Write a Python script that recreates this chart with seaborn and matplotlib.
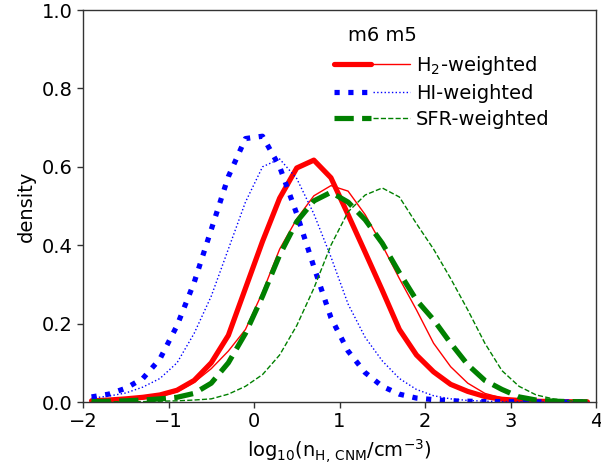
import numpy as np
import pandas as pd
import matplotlib
matplotlib.use("Agg")
import matplotlib.pyplot as plt
import seaborn as sns
from matplotlib.legend_handler import HandlerTuple

# bin centres of log10 density
log_n = [-1.9, -1.7, -1.5, -1.3, -1.1, -0.9, -0.7, -0.5, -0.3, -0.1,
         0.1, 0.3, 0.5, 0.7, 0.9, 1.1, 1.3, 1.5, 1.7, 1.9,
         2.1, 2.3, 2.5, 2.7, 2.9, 3.1, 3.3, 3.5, 3.7, 3.9]

h2_m6 = [0.003, 0.005, 0.008, 0.012, 0.018, 0.030, 0.055, 0.100, 0.170, 0.290,
         0.410, 0.520, 0.597, 0.617, 0.572, 0.478, 0.382, 0.285, 0.185, 0.120,
         0.077, 0.045, 0.027, 0.014, 0.007, 0.004, 0.002, 0.001, 0.0005, 0.0003]
h2_m5 = [0.002, 0.003, 0.005, 0.008, 0.014, 0.026, 0.050, 0.085, 0.130, 0.185,
         0.280, 0.390, 0.467, 0.526, 0.552, 0.538, 0.478, 0.400, 0.315, 0.235,
         0.150, 0.090, 0.048, 0.022, 0.010, 0.005, 0.002, 0.001, 0.0005, 0.0003]
hi_m6 = [0.013, 0.020, 0.035, 0.060, 0.110, 0.195, 0.305, 0.440, 0.575, 0.672,
         0.678, 0.600, 0.480, 0.345, 0.215, 0.130, 0.075, 0.040, 0.020, 0.010,
         0.006, 0.003, 0.002, 0.001, 0.001, 0.0005, 0.0003, 0.0002, 0.0001, 0.0001]
hi_m5 = [0.010, 0.015, 0.023, 0.038, 0.060, 0.100, 0.175, 0.270, 0.390, 0.510,
         0.600, 0.620, 0.570, 0.480, 0.370, 0.250, 0.165, 0.105, 0.060, 0.032,
         0.016, 0.008, 0.004, 0.002, 0.001, 0.0005, 0.0003, 0.0002, 0.0001, 0.0001]
sfr_m6 = [0.001, 0.002, 0.003, 0.005, 0.008, 0.012, 0.022, 0.048, 0.100, 0.175,
          0.270, 0.375, 0.460, 0.513, 0.535, 0.510, 0.465, 0.405, 0.330, 0.260,
          0.210, 0.150, 0.095, 0.055, 0.032, 0.013, 0.005, 0.002, 0.001, 0.0005]
sfr_m5 = [0.0003, 0.0005, 0.001, 0.001, 0.002, 0.003, 0.005, 0.008, 0.020, 0.040,
          0.070, 0.120, 0.195, 0.290, 0.400, 0.485, 0.528, 0.546, 0.523, 0.455,
          0.390, 0.315, 0.235, 0.150, 0.080, 0.040, 0.018, 0.008, 0.003, 0.001]

legend_labels = ["H$_2$-weighted", "HI-weighted", "SFR-weighted"]
x_ticks = [-2, -1, 0, 1, 2, 3, 4]
y_ticks = [0.0, 0.2, 0.4, 0.6, 0.8, 1.0]

sns.set_style("white")
plt.rcParams["font.family"] = ["DejaVu Sans"]
plt.rcParams["text.color"] = "black"
plt.rcParams["axes.labelcolor"] = "black"
plt.rcParams["axes.edgecolor"] = "0.2"
plt.rcParams["xtick.color"] = "0.2"
plt.rcParams["ytick.color"] = "0.2"
plt.rcParams["xtick.labelcolor"] = "black"
plt.rcParams["ytick.labelcolor"] = "black"

fig = plt.figure(figsize=(6.01, 4.73), dpi=100)
ax = fig.add_axes([83 / 601, 1 - 402 / 473, 513 / 601, 392 / 473])

thick, thin = 3.75, 1.0
series = [
    (h2_m6, "red", "-", thick), (h2_m5, "red", "-", thin),
    (hi_m6, "blue", ":", thick), (hi_m5, "blue", ":", thin),
    (sfr_m6, "green", "--", thick), (sfr_m5, "green", "--", thin),
]
for values, color, ls, lw in series:
    df = pd.DataFrame({"log_n": log_n, "density": values})
    sns.lineplot(data=df, x="log_n", y="density", ax=ax, color=color,
                 linestyle=ls, linewidth=lw, legend=False)

ax.set_xlim(-2, 4)
ax.set_ylim(0, 1.0)
ax.set_xticks(x_ticks)
ax.set_yticks(y_ticks)
ax.set_xticklabels([f"{t:d}".replace("-", "\u2212") for t in x_ticks])
ax.set_yticklabels([f"{t:.1f}" for t in y_ticks])
ax.tick_params(axis="both", which="major", direction="out", length=4,
               width=1, labelsize=14, bottom=True, left=True)
for sp in ax.spines.values():
    sp.set_linewidth(1.0)
ax.set_xlabel("log$_{10}$(n$_{\\mathrm{H,\\,CNM}}$/cm$^{-3}$)", fontsize=14)
ax.set_ylabel("density", fontsize=14)

lines = ax.lines
handles = [(lines[0], lines[1]), (lines[2], lines[3]), (lines[4], lines[5])]
ax.legend(handles, legend_labels,
          handler_map={tuple: HandlerTuple(ndivide=None, pad=0.1)},
          loc="upper left", bbox_to_anchor=(0.49, 0.887), frameon=False,
          fontsize=14, handlelength=3.9, handletextpad=0.3,
          labelspacing=0.35, borderpad=0.0, borderaxespad=0.0)
ax.text(0.517, 0.935, "m6 m5", transform=ax.transAxes, fontsize=14,
        ha="left", va="center")

fig.savefig("out.png", dpi=100)
